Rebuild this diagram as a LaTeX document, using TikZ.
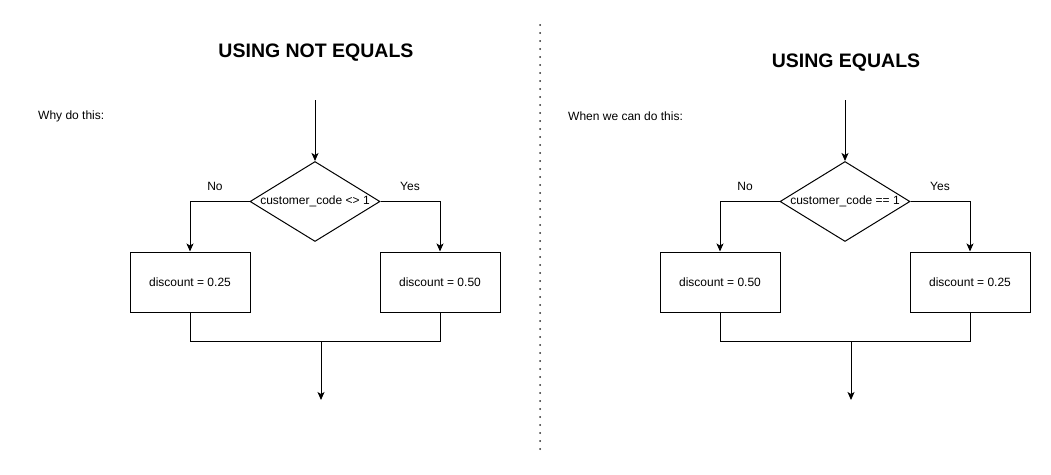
\documentclass[tikz,border=0pt]{standalone}
\usepackage{fontspec}
\setmainfont{Liberation Sans}
\usetikzlibrary{shapes.geometric,arrows.meta}
\tikzset{
  txt/.style={font=\fontsize{12}{14}\selectfont, inner sep=0pt},
  title/.style={font=\fontsize{19.5}{23}\selectfont\bfseries, inner sep=0pt},
  dec/.style={diamond, draw, line width=1pt, minimum width=130pt, minimum height=80pt, inner sep=0pt},
  procbox/.style={rectangle, draw, line width=1pt, minimum width=120pt, minimum height=60pt, inner sep=0pt, font=\fontsize{12}{14}\selectfont},
  conn/.style={line width=1pt},
  arr/.style={line width=1pt, -{Stealth[length=8pt,width=7pt,inset=2pt]}},
  sep/.style={line width=2pt, line cap=round, dash pattern=on 0pt off 8pt, draw=black!85}
}
\begin{document}
\begin{tikzpicture}[x=1pt,y=-1pt]
\useasboundingbox (0,0) rectangle (1051,474);
% separator
\coordinate (sepa) at (540,25);
\coordinate (sepb) at (540,455);
\draw[sep] (sepa) -- (sepb);

% ---------- left ----------
\node[title] (t1) at (316,52.5) {USING NOT EQUALS};
\node[txt, anchor=west] (w1) at (38,116) {Why do this:};
\coordinate (s1) at (315,100);
\node[dec, label={[txt]center:customer\_code <> 1}] (d1) at (315,201.5) {};
\node[procbox] (b1) at (190,282) {discount = 0.25};
\node[procbox] (b2) at (440,282) {discount = 0.50};
\node[txt] (n1) at (215,186) {No};
\node[txt] (y1) at (410,186) {Yes};
\coordinate (j1) at (321,341);
\coordinate (e1) at (321,400);
\draw[arr] (s1) -- (d1.north);
\draw[arr] (d1.west) -| (b1.north);
\draw[arr] (d1.east) -| (b2.north);
\draw[conn] (b1.south) |- (j1);
\draw[conn] (b2.south) |- (j1);
\draw[arr] (j1) -- (e1);

% ---------- right ----------
\node[title] (t2) at (846,62.5) {USING EQUALS};
\node[txt, anchor=west] (w2) at (568,116) {When we can do this:};
\coordinate (s2) at (845,100);
\node[dec, label={[txt]center:customer\_code == 1}] (d2) at (845,201.5) {};
\node[procbox] (b3) at (720,282) {discount = 0.50};
\node[procbox] (b4) at (970,282) {discount = 0.25};
\node[txt] (n2) at (745,186) {No};
\node[txt] (y2) at (940,186) {Yes};
\coordinate (j2) at (851,341);
\coordinate (e2) at (851,400);
\draw[arr] (s2) -- (d2.north);
\draw[arr] (d2.west) -| (b3.north);
\draw[arr] (d2.east) -| (b4.north);
\draw[conn] (b3.south) |- (j2);
\draw[conn] (b4.south) |- (j2);
\draw[arr] (j2) -- (e2);
\end{tikzpicture}
\end{document}
